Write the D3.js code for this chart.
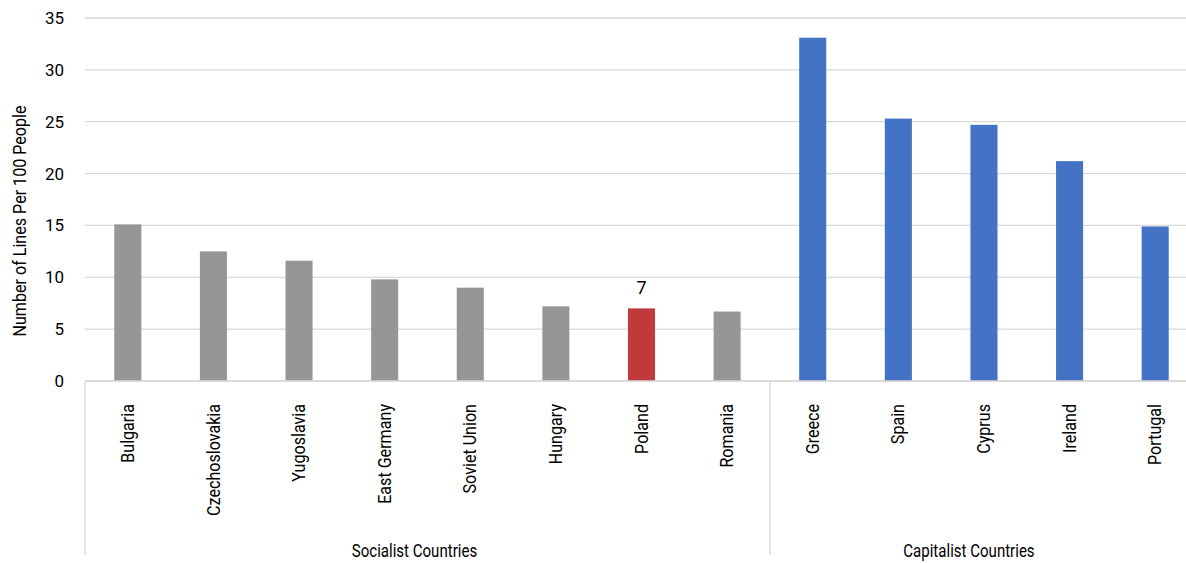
<!DOCTYPE html>
<html><head><meta charset="utf-8">
<script src="https://cdn.jsdelivr.net/npm/d3@7"></script>
<style>
body{margin:0;background:#fff;}
text{font-family:Roboto,"Noto Sans",sans-serif;fill:#000;}
</style></head>
<body><svg id="c" width="1186" height="563"></svg>
<script>
const categories = ["Bulgaria","Czechoslovakia","Yugoslavia","East Germany","Soviet Union","Hungary","Poland","Romania","Greece","Spain","Cyprus","Ireland","Portugal"];
const values = [15.1, 12.5, 11.6, 9.8, 9.0, 7.2, 7.0, 6.7, 33.1, 25.3, 24.7, 21.2, 14.9];
const groups = ["Socialist","Socialist","Socialist","Socialist","Socialist","Socialist","Socialist","Socialist","Capitalist","Capitalist","Capitalist","Capitalist","Capitalist"];
const groupNames = ["Socialist Countries","Capitalist Countries"];
const groupKeys = ["Socialist","Capitalist"];
const highlighted = ["Poland"];
const yTicks = [0,5,10,15,20,25,30,35];
const yTitle = "Number of Lines Per 100 People";

(function(){
const svg = d3.select("#c");
const mL = 85, mR = 1198, mT = 18, mB = 381;
const FS = "17px";
const x = d3.scaleBand().domain(categories).range([mL,mR]).paddingInner(0.684).paddingOuter(0.342);
const y = d3.scaleLinear().domain([0,35]).range([mB, mT]);

function condense(sel, f){
  sel.each(function(){
    const w = this.getComputedTextLength();
    d3.select(this).attr("textLength", w*f).attr("lengthAdjust","spacingAndGlyphs");
  });
}

// gridlines
svg.append("g").selectAll("line").data(yTicks).join("line")
  .attr("x1", mL).attr("x2", mR)
  .attr("y1", d=>y(d)).attr("y2", d=>y(d))
  .attr("stroke", "#d9d9d9").attr("stroke-width", 1.3);

// y axis labels
const yAxis = d3.axisLeft(y).tickValues(yTicks).tickSize(0).tickPadding(0);
const ya = svg.append("g").attr("transform", `translate(${mL-21},0)`).call(yAxis);
ya.select(".domain").remove();
ya.selectAll("text").style("font-size",FS).attr("fill","#000").attr("font-family",null);

// bars
const color = (c,i) => highlighted.includes(c) ? "#c0393b" : (groups[i]==="Capitalist" ? "#4472c4" : "#969696");
svg.append("g").selectAll("rect").data(categories).join("rect")
  .attr("x", d=>x(d)).attr("width", x.bandwidth())
  .attr("y", (d,i)=>y(values[i])).attr("height", (d,i)=>y(0)-y(values[i]))
  .attr("fill", (d,i)=>color(d,i));

// data label for highlighted
categories.forEach((c,i)=>{
  if(highlighted.includes(c)){
    svg.append("text").attr("x", x(c)+x.bandwidth()/2).attr("y", y(values[i])-14)
      .attr("text-anchor","middle").style("font-size","18px").text(d3.format("d")(values[i]));
  }
});

// x axis line
svg.append("line").attr("x1",mL).attr("x2",mR).attr("y1",mB).attr("y2",mB)
  .attr("stroke","#d9d9d9").attr("stroke-width",1.3);

// category labels
const xAxis = d3.axisBottom(x).tickSize(0).tickPadding(0);
const xa = svg.append("g").attr("transform",`translate(0,${mB})`).call(xAxis);
xa.select(".domain").remove();
const xt = xa.selectAll("text").attr("font-family",null).style("font-size","17.5px").attr("fill","#000")
  .attr("transform","rotate(-90)").attr("text-anchor","end")
  .attr("x",-23).attr("y",0).attr("dy","0.35em");
condense(xt, 0.92);

// group separators and labels
const groupBounds = groupKeys.map(g=>{
  const cs = categories.filter((c,i)=>groups[i]===g);
  return [x(cs[0]) - x.step()*x.paddingInner()/2, x(cs[cs.length-1]) + x.bandwidth() + x.step()*x.paddingInner()/2];
});
const seps = [mL, groupBounds[0][1]];
svg.append("g").selectAll("line").data(seps).join("line")
  .attr("x1",d=>d).attr("x2",d=>d).attr("y1",mB).attr("y2",555)
  .attr("stroke","#d9d9d9").attr("stroke-width",1.3);
const gt = svg.append("g").selectAll("text").data(groupNames).join("text")
  .attr("x",(d,i)=> (groupBounds[i][0]+groupBounds[i][1])/2 + (i===0 ? -13 : -15))
  .attr("y",557).attr("text-anchor","middle").style("font-size","17.5px").text(d=>d);
condense(gt, 0.86);

// y title
const yt = svg.append("text").attr("transform","translate(26,221) rotate(-90)")
  .attr("text-anchor","middle").style("font-size","17.5px").text(yTitle);
condense(yt, 0.92);
})();
</script></body></html>
